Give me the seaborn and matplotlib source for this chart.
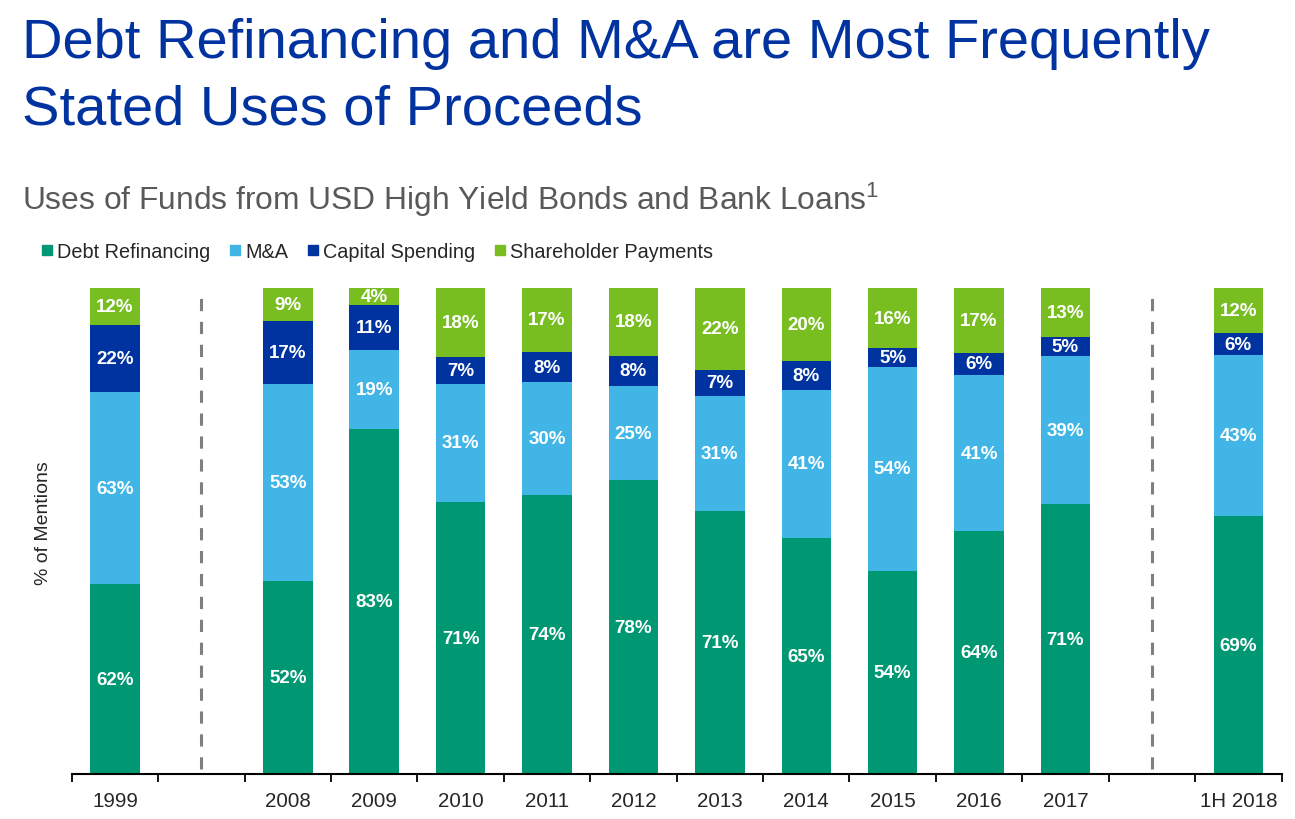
import numpy as np
import pandas as pd
import seaborn as sns
import matplotlib.pyplot as plt
from matplotlib.lines import Line2D

# Werte aus dem Chart (% of Mentions, Mehrfachnennungen -> Summe > 100)
years = ["1999", "2008", "2009", "2010", "2011", "2012", "2013",
         "2014", "2015", "2016", "2017", "1H 2018"]
debt_refi = [62, 52, 83, 71, 74, 78, 71, 65, 54, 64, 71, 69]
m_and_a = [63, 53, 19, 31, 30, 25, 31, 41, 54, 41, 39, 43]
capex = [22, 17, 11, 7, 8, 8, 7, 8, 5, 6, 5, 6]
shareholder = [12, 9, 4, 18, 17, 18, 22, 20, 16, 17, 13, 12]

series_names = ["Debt Refinancing", "M&A", "Capital Spending", "Shareholder Payments"]
colors = ["#009872", "#41b6e6", "#0032a0", "#78be21"]

# Reihenfolge mit Lücken für die gestrichelten Trennlinien
order = ["1999", "gap1", "2008", "2009", "2010", "2011", "2012", "2013",
         "2014", "2015", "2016", "2017", "gap2", "1H 2018"]

df = pd.DataFrame({"year": years, "Debt Refinancing": debt_refi, "M&A": m_and_a,
                   "Capital Spending": capex, "Shareholder Payments": shareholder})
total = df[series_names].sum(axis=1)
shares = df[series_names].div(total, axis=0)
cum = shares.cumsum(axis=1)
cum["year"] = df["year"]

sns.set_theme(style="white")
plt.rcParams["font.family"] = ["Liberation Sans", "DejaVu Sans"]
plt.rcParams["mathtext.fontset"] = "custom"
plt.rcParams["mathtext.rm"] = "Liberation Sans"
plt.rcParams["mathtext.default"] = "regular"

fig = plt.figure(figsize=(12.95, 8.2), dpi=100)
ax = fig.add_axes([0.0554, 0.0549, 0.9342, 0.5927])

# gestapelt: kumulierte Summen, von oben nach unten zeichnen
for name, c in zip(reversed(series_names), reversed(colors)):
    sns.barplot(data=cum, x="year", y=name, order=order, color=c,
                width=0.573, saturation=1, ax=ax, linewidth=0)

# Beschriftungen in der Mitte jedes Segments
for i, yr in enumerate(years):
    pos = order.index(yr)
    bottom = 0
    for name in series_names:
        h = shares.loc[i, name]
        ax.text(pos, bottom + h / 2, f"{df.loc[i, name]}%", ha="center", va="center",
                color="white", fontsize=13.5, fontweight="bold")
        bottom += h

# gestrichelte Trennlinien
for g in ["gap1", "gap2"]:
    ax.axvline(order.index(g), ymin=0.01, ymax=0.983, color="#7f7f7f",
               lw=2.2, linestyle=(0, (4, 3.5)))

ax.set_xlim(-0.5, len(order) - 0.5)
ax.set_ylim(0, 1)
ax.set_yticks([])
ax.set_xlabel("")
ax.set_ylabel("% of Mentions", fontsize=14)
ax.yaxis.set_label_coords(-0.0163, 0.519)
ax.set_xticks(range(len(order)))
ax.set_xticklabels([o if not o.startswith("gap") else "" for o in order], fontsize=14.8)
ax.tick_params(axis="x", which="major", length=0, pad=12)
ax.set_xticks(np.arange(-0.5, len(order)), minor=True)
ax.tick_params(axis="x", which="minor", length=6, width=1.3, color="black", bottom=True)
for s in ["top", "right", "left"]:
    ax.spines[s].set_visible(False)
ax.spines["bottom"].set_color("black")
ax.spines["bottom"].set_linewidth(1.5)

# Titel (zwei Zeilen)
fig.text(0.017, 0.9295, "Debt Refinancing and M&A are Most Frequently",
         ha="left", va="baseline", fontsize=40.4, color="#0032a0")
fig.text(0.017, 0.848, "Stated Uses of Proceeds",
         ha="left", va="baseline", fontsize=40.4, color="#0032a0")
fig.text(0.017, 0.744, "Uses of Funds from USD High Yield Bonds and Bank Loans$^{1}$",
         ha="left", va="baseline", fontsize=22.9, color="#595959")

# Legende
handles = [Line2D([], [], marker="s", linestyle="", markersize=7.5, color=c) for c in colors]
fig.legend(handles, series_names, loc="center left", bbox_to_anchor=(0.015, 0.692),
           ncol=4, frameon=False, fontsize=14.3, handletextpad=0.0,
           columnspacing=0.75, handlelength=1.0)

fig.savefig("out.png", dpi=100)
